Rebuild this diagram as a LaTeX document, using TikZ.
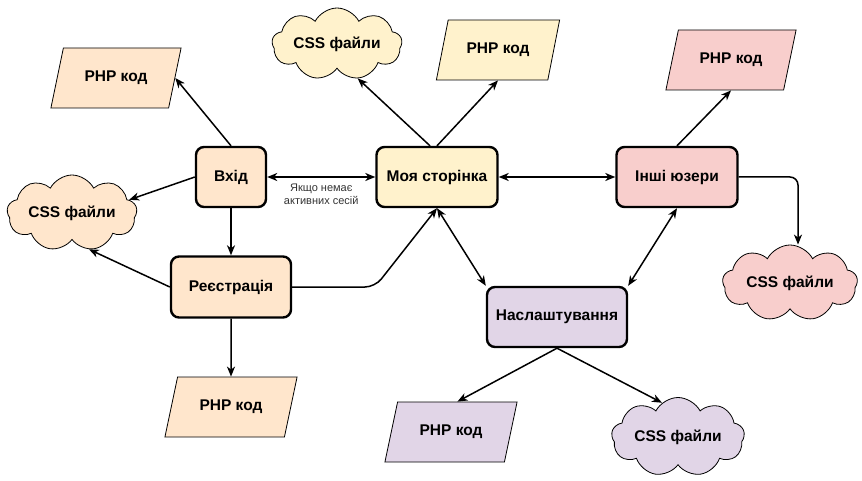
\documentclass[tikz,border=0pt]{standalone}
\usepackage{fontspec}
\setmainfont{Liberation Sans}
\usetikzlibrary{arrows.meta,shapes.geometric,shapes.symbols}
\definecolor{peach}{HTML}{FFE6CC}
\definecolor{lemon}{HTML}{FFF2CC}
\definecolor{rose}{HTML}{F8CECC}
\definecolor{lilac}{HTML}{E1D5E7}
\definecolor{note}{HTML}{333333}
\begin{document}
\begin{tikzpicture}[x=1pt, y=-1pt,
    box/.style={draw, line width=2.4pt, rounded corners=8pt, minimum height=60pt,
      inner sep=2pt, font=\fontsize{15.5}{18}\selectfont\bfseries},
    code/.style={draw, line width=0.8pt, trapezium, trapezium left angle=64,
      trapezium right angle=116, trapezium stretches=true, minimum width=131pt,
      minimum height=60pt, inner sep=1pt, font=\fontsize{15.5}{18}\selectfont\bfseries},
    css/.style={draw, line width=0.8pt, cloud, cloud puffs=9, cloud puff arc=125,
      cloud ignores aspect, minimum width=130pt, minimum height=76pt, inner sep=1pt,
      font=\fontsize{15.5}{18}\selectfont\bfseries},
    arr/.style={-{Stealth[length=10pt,width=8pt,inset=3pt]}, line width=1.5pt},
    both/.style={{Stealth[length=10pt,width=8pt,inset=3pt]}-{Stealth[length=10pt,width=8pt,inset=3pt]}, line width=1.5pt},
    lbl/.style={text=note, align=center, font=\fontsize{11}{13.5}\selectfont, inner sep=1pt}]
  \useasboundingbox (0,0) rectangle (862,481);

  % pages
  \node[box, fill=peach, minimum width=70pt] (vhid) at (231,177) {Вхід};
  \node[box, fill=lemon, minimum width=121pt] (moya) at (437,177) {Моя сторінка};
  \node[box, fill=rose, minimum width=121pt] (inshi) at (677,177) {Інші юзери};
  \node[box, fill=peach, minimum width=120pt, minimum height=61pt] (reg) at (231,287) {Реєстрація};
  \node[box, fill=lilac, minimum width=140pt] (nal) at (557,317) {Наслаштування};

  % php
  \node[code, fill=peach] (php1) at (116,78) {PHP код};
  \node[code, fill=lemon, minimum width=124pt] (php2) at (498,50) {PHP код};
  \node[code, fill=rose] (php3) at (731,60) {PHP код};
  \node[code, fill=peach, minimum width=133pt] (php5) at (231,407) {PHP код};
  \node[code, fill=lilac, minimum width=133pt] (php4) at (451,432) {PHP код};

  % css
  \node[css, fill=peach] (cssl) at (72,213) {CSS файли};
  \node[css, fill=lemon, minimum height=72pt] (cssm) at (337,44) {CSS файли};
  \node[css, fill=rose, minimum width=135pt] (cssr) at (790,283) {CSS файли};
  \node[css, fill=lilac, minimum width=133pt, minimum height=79pt] (cssb) at (678,437) {CSS файли};

  \coordinate (bend) at (375,287);

  \draw[arr] (vhid.north) -- (php1.east);
  \draw[arr] (vhid.west) -- (cssl.13);
  \draw[arr] (vhid.south) -- (reg.north);
  \draw[arr] (reg.west) -- (cssl.-65);
  \draw[arr] (reg.south) -- (php5.north);
  \draw[both] (vhid.east) -- node[lbl, below=5pt] {Якщо немає\\активних сесій} (moya.west);
  \draw[arr] ([xshift=-7pt]moya.north) -- (cssm.-59);
  \draw[arr] (moya.north) -- (php2.south);
  \draw[both] (moya.east) -- (inshi.west);
  \draw[arr, rounded corners=10pt] (reg.east) -- (bend) -- (moya.south);
  \draw[both] (moya.south) -- (nal.north west);
  \draw[both] (inshi.south) -- (nal.north east);
  \draw[arr] (inshi.north) -- (php3.south);
  \draw[arr, rounded corners=8pt] (inshi.east) -| ([xshift=8pt]cssr.north);
  \draw[arr] (nal.south) -- (php4.top side);
  \draw[arr] (nal.south) -- (cssb.115);
\end{tikzpicture}
\end{document}
